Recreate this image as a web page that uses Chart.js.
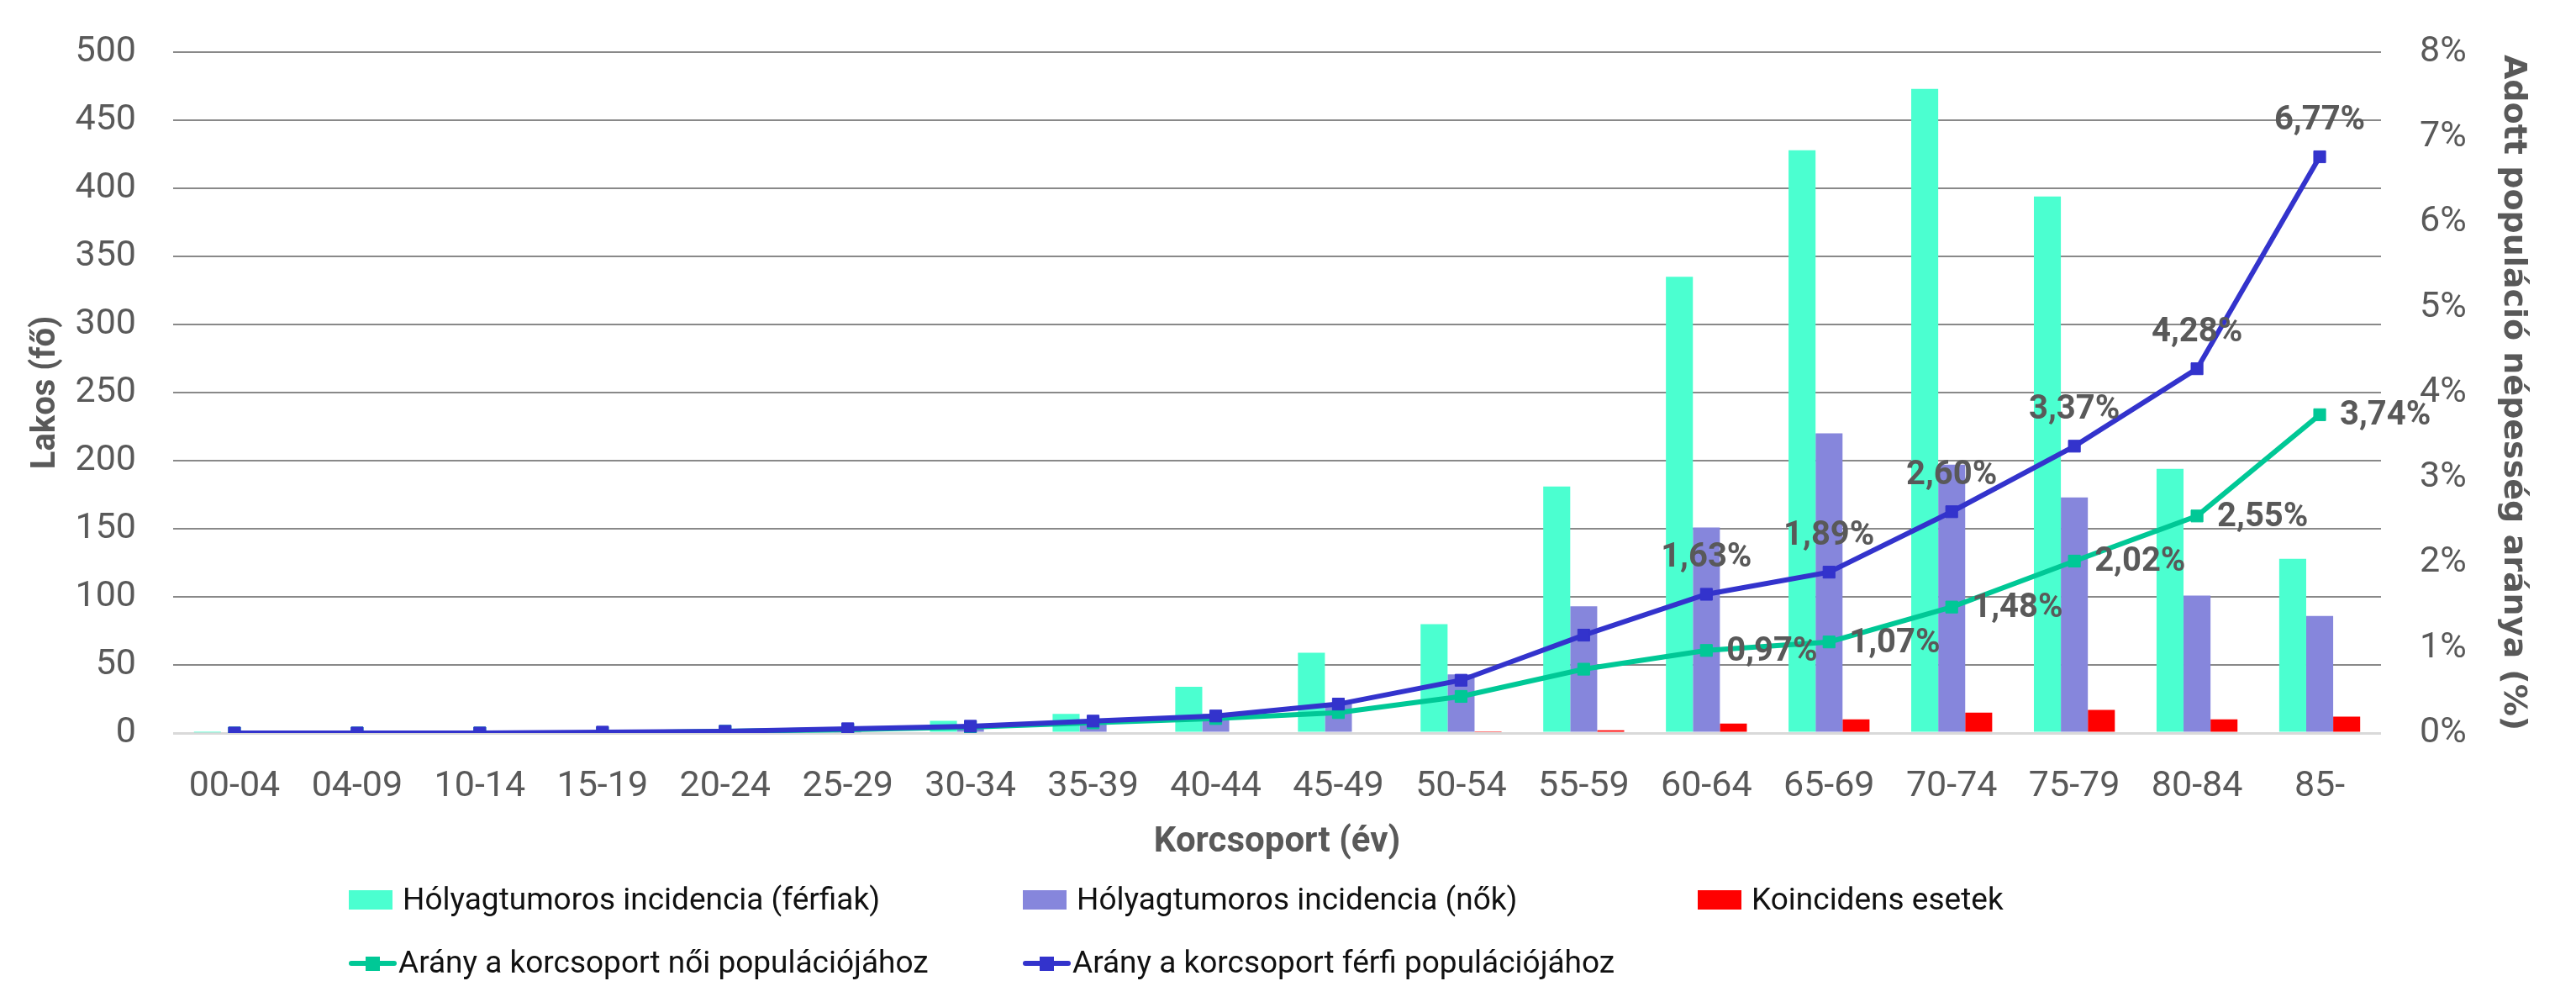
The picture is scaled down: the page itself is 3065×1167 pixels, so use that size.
<!DOCTYPE html>
<html lang="hu">
<head>
  <meta charset="UTF-8" />
  <title>Hólyagtumoros incidencia</title>
  <script src="https://cdn.jsdelivr.net/npm/chart.js"></script>
  <style>
    body { margin: 0; background: #fff; }
    .wrap { width: 3065px; height: 1167px; position: relative; }
  </style>
</head>
<body>
  <div class="wrap"><canvas id="chart"></canvas></div>
  <script>
    // korcsoportok
    const categories = ["00-04","04-09","10-14","15-19","20-24","25-29","30-34","35-39","40-44","45-49","50-54","55-59","60-64","65-69","70-74","75-79","80-84","85-"];
    // fő
    const maleCases   = [0.5, 0, 0, 0, 0, 0.5, 9, 14, 34, 59, 80, 181, 335, 428, 473, 394, 194, 128];
    const femaleCases = [0, 0, 0, 0, 0, 0.5, 5, 8, 14, 22, 43, 93, 151, 220, 197, 173, 101, 86];
    const coincident  = [0, 0, 0, 0, 0, 0, 0, 0, 0, 0, 0.6, 2, 7, 10, 15, 17, 10, 12];
    // %
    const femaleRatio = [0, 0, 0, 0, 0.02, 0.04, 0.07, 0.12, 0.17, 0.24, 0.43, 0.75, 0.97, 1.07, 1.48, 2.02, 2.55, 3.74];
    const maleRatio   = [0, 0, 0, 0.01, 0.02, 0.05, 0.08, 0.14, 0.20, 0.34, 0.62, 1.15, 1.63, 1.89, 2.60, 3.37, 4.28, 6.77];
    const leftTicks = { min: 0, max: 500, step: 50 };
    const rightTicks = { min: 0, max: 8, step: 1 };
    const firstLabelIndex = 12;

    const gray = "#595959";
    const font = "Roboto, 'Liberation Sans', sans-serif";

    // adatcímkék a vonalakra
    const pointLabels = {
      id: "pointLabels",
      afterDatasetsDraw(chart) {
        const ctx = chart.ctx;
        ctx.save();
        ctx.font = "bold 40px " + font;
        ctx.fillStyle = gray;
        chart.data.datasets.forEach((ds, di) => {
          if (!ds.labelPos) return;
          const meta = chart.getDatasetMeta(di);
          meta.data.forEach((pt, i) => {
            if (i < firstLabelIndex) return;
            const txt = ds.data[i].toFixed(2).replace(".", ",") + "%";
            ctx.textBaseline = "middle";
            if (ds.labelPos === "top") {
              ctx.textAlign = "center";
              ctx.fillText(txt, pt.x, pt.y - 43);
            } else {
              ctx.textAlign = "left";
              ctx.fillText(txt, pt.x + 24, pt.y + 2);
            }
          });
        });
        ctx.restore();
      }
    };

    // jelmagyarázat két sorban
    const legendRows = {
      id: "legendRows",
      afterDraw(chart) {
        const ctx = chart.ctx;
        const cols = [415, 1217, 2020];
        const rows = [1071, 1146];
        ctx.save();
        ctx.font = "37px " + font;
        ctx.textBaseline = "middle";
        ctx.textAlign = "left";
        let bi = 0, li = 0;
        chart.data.datasets.forEach(ds => {
          if (ds.type === "bar") {
            const x = cols[bi++], y = rows[0];
            ctx.fillStyle = ds.backgroundColor;
            ctx.fillRect(x, y - 12, 52, 23);
            ctx.fillStyle = "#111";
            ctx.fillText(ds.label, x + 64, y + 2);
          } else {
            const x = cols[li++], y = rows[1];
            ctx.strokeStyle = ds.borderColor;
            ctx.lineWidth = 6;
            ctx.lineCap = "round";
            ctx.beginPath();
            ctx.moveTo(x + 3, y);
            ctx.lineTo(x + 54, y);
            ctx.stroke();
            ctx.fillStyle = ds.borderColor;
            ctx.fillRect(x + 20, y - 8, 17, 17);
            ctx.fillStyle = "#111";
            ctx.fillText(ds.label, x + 59, y + 2);
          }
        });
        ctx.restore();
      }
    };

    const lineStyle = (color) => ({
      type: "line",
      yAxisID: "y2",
      borderColor: color,
      backgroundColor: color,
      borderWidth: 6,
      pointStyle: "rect",
      pointRadius: 10,
      pointBorderWidth: 1,
      pointBackgroundColor: color,
      pointBorderColor: color,
      tension: 0,
      fill: false
    });

    // a tengely saját felső/alsó helyigénye ne tolja el a rajzterületet
    const fixVertical = (w) => s => { s.width = w; s.paddingTop = 0; s.paddingBottom = 0; };

    new Chart(document.getElementById("chart"), {
      data: {
        labels: categories,
        datasets: [
          { type: "bar", label: "Hólyagtumoros incidencia (férfiak)", data: maleCases, backgroundColor: "#4BFFD0", order: 3 },
          { type: "bar", label: "Hólyagtumoros incidencia (nők)", data: femaleCases, backgroundColor: "#8686DC", order: 3 },
          { type: "bar", label: "Koincidens esetek", data: coincident, backgroundColor: "#FF0000", order: 3 },
          Object.assign(lineStyle("#00C896"), { label: "Arány a korcsoport női populációjához", data: femaleRatio, order: 1, labelPos: "right" }),
          Object.assign(lineStyle("#3333CC"), { label: "Arány a korcsoport férfi populációjához", data: maleRatio, order: 0, labelPos: "top" })
        ]
      },
      options: {
        responsive: true,
        maintainAspectRatio: false,
        animation: false,
        layout: { padding: { top: 62, left: 0, right: 0, bottom: 135 } },
        datasets: { bar: { categoryPercentage: 0.66, barPercentage: 1.0 } },
        plugins: { legend: { display: false }, tooltip: { enabled: false } },
        scales: {
          x: {
            offset: true,
            grid: { display: false },
            border: { display: false },
            ticks: { color: gray, font: { family: font, size: 43 }, padding: 30, maxRotation: 0, autoSkip: false },
            title: { display: true, text: "Korcsoport (év)", color: gray, font: { family: font, size: 42, weight: "bold" }, padding: { top: 0, bottom: 4 } },
            afterFit: s => { s.height = 160; }
          },
          y: {
            position: "left",
            min: leftTicks.min, max: leftTicks.max,
            ticks: { stepSize: leftTicks.step, color: gray, font: { family: font, size: 43 }, padding: 44 },
            grid: {
              drawTicks: false,
              color: c => c.tick.value === 0 ? "#D9D9D9" : "#898989",
              lineWidth: c => c.tick.value === 0 ? 3 : 2
            },
            border: { display: false },
            title: { display: true, text: "Lakos (fő)", color: gray, font: { family: font, size: 40, weight: "bold" }, padding: { top: 31, bottom: 0 } },
            afterFit: fixVertical(206)
          },
          y2: {
            position: "right",
            min: rightTicks.min, max: rightTicks.max,
            ticks: { stepSize: rightTicks.step, color: gray, font: { family: font, size: 43 }, padding: 46, callback: v => v + "%" },
            grid: { display: false, drawTicks: false },
            border: { display: false },
            title: { display: true, text: "Adott populáció népesség aránya (%)", color: gray, font: { family: "'DejaVu Sans', sans-serif", size: 38, weight: "bold" }, padding: { top: 52, bottom: 0 } },
            afterFit: fixVertical(232)
          }
        }
      },
      plugins: [pointLabels, legendRows]
    });
  </script>
</body>
</html>
